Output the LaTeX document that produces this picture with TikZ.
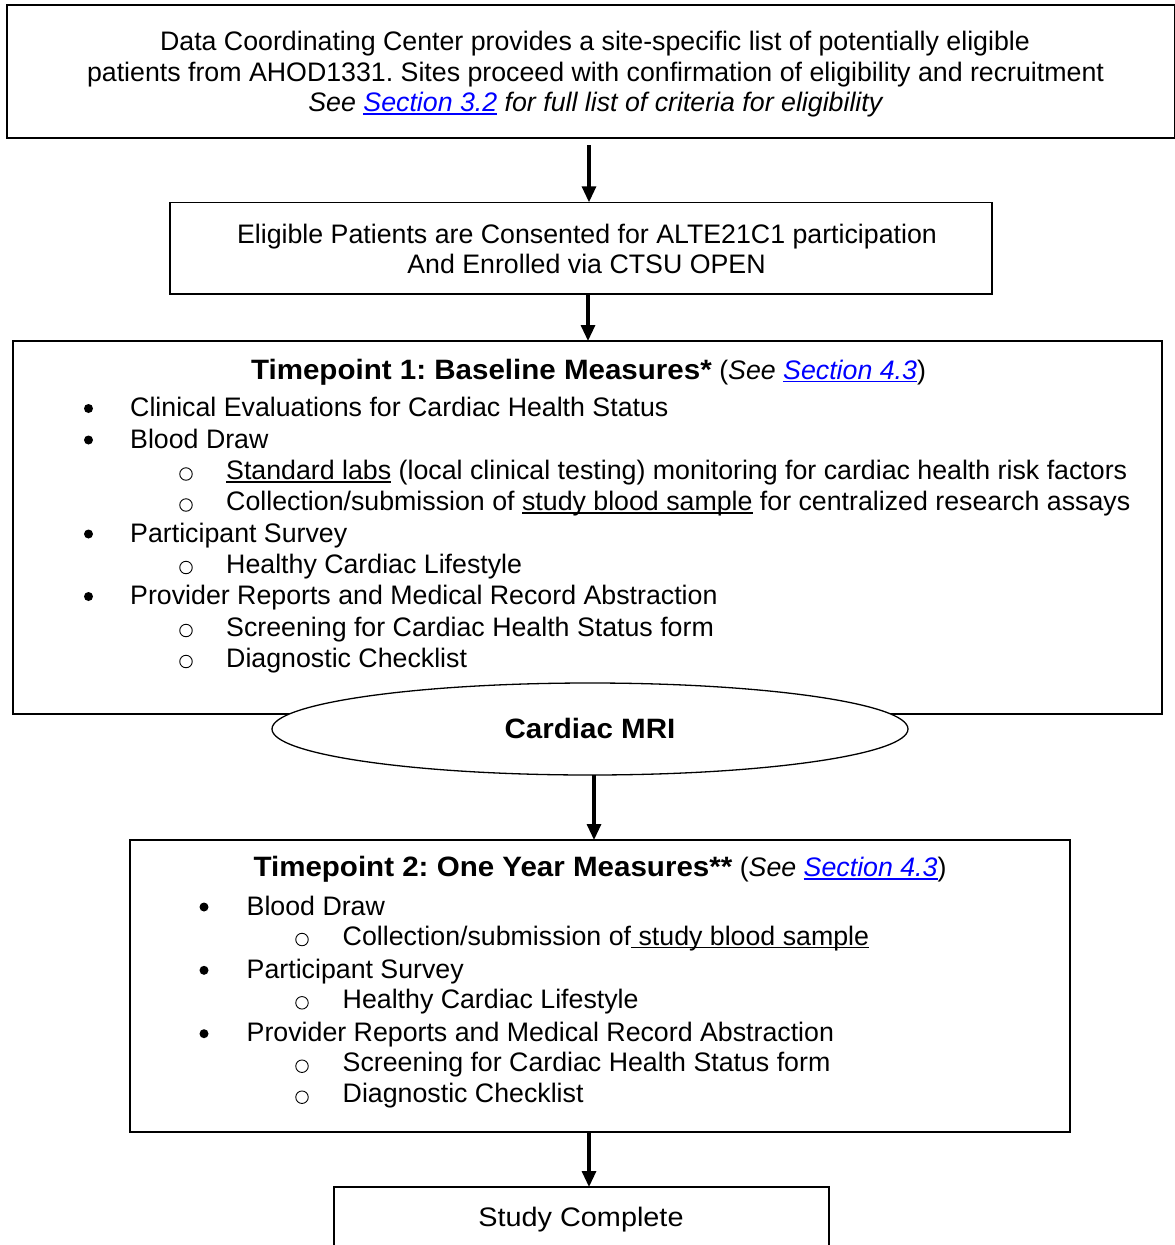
\documentclass[tikz,border=0pt]{standalone}
\usepackage{fontspec}
\setmainfont{Liberation Sans}
\usetikzlibrary{arrows.meta,shapes.geometric}
\definecolor{linkblue}{RGB}{0,0,255}
\frenchspacing
\newsavebox{\myulbox}
\newcommand{\myul}[1]{\sbox{\myulbox}{#1}\rlap{\rule[-3pt]{\wd\myulbox}{1.5pt}}\usebox{\myulbox}}
\newcommand{\lnk}[1]{\textcolor{linkblue}{\myul{\textit{#1}}}}
\newcommand{\bigbold}[1]{\scalebox{1.055}[1]{\fontsize{28}{31}\selectfont\bfseries #1}}
\begin{document}
\begin{tikzpicture}[x=1pt,y=-1pt,
  box/.style={draw=black, line width=1.3pt, rectangle, inner sep=0pt, outer sep=0pt},
  oval/.style={draw=black, line width=1.3pt, ellipse, fill=white, inner sep=0pt, outer sep=0pt},
  txt/.style={font=\fontsize{26.75}{31}\selectfont, inner sep=0pt, anchor=base},
  ltxt/.style={txt, anchor=base west},
  dot/.style={circle, fill=black, inner sep=0pt, minimum size=9pt, yshift=8pt},
  ring/.style={circle, draw=black, line width=0.9pt, inner sep=0pt, minimum size=12.5pt, yshift=5.5pt},
  arr/.style={line width=3.2pt, -{Triangle[width=14pt,length=16pt]}}
]
\useasboundingbox (0,0) rectangle (1175,1245);
\fill[white] (0,0) rectangle (1175,1245);

% boxes
\node[box, minimum width=1167.5pt, minimum height=133pt] (dcc) at (590.75,71.5) {};
\node[box, minimum width=822pt, minimum height=91.7pt] (enr) at (581,248.15) {};
\node[box, minimum width=1149pt, minimum height=373pt] (tp1) at (587.5,527.5) {};
\node[oval, minimum width=636pt, minimum height=92pt] (mri) at (590,729) {};
\node[box, minimum width=940pt, minimum height=292pt] (tp2) at (600,986) {};
\node[box, minimum width=495pt, minimum height=113pt] (done) at (581.5,1243.5) {};

% top box text
\node[txt] (t1a) at (595,50.7) {Data Coordinating Center provides a site-specific list of potentially eligible};
\node[txt] (t1b) at (595.5,81.3) {patients from AHOD1331. Sites proceed with confirmation of eligibility and recruitment};
\node[txt] (t1c) at (596,111.7) {\textit{See \lnk{Section 3.2} for full list of criteria for eligibility}};

% enrolment box text
\node[txt] (e1) at (587,243) {Eligible Patients are Consented for ALTE21C1 participation};
\node[txt] (e2) at (586.5,273.5) {And Enrolled via CTSU OPEN};

% timepoint 1
\node[txt] (h1) at (588.5,379) {\bigbold{Timepoint 1: Baseline Measures*} (\textit{See} \lnk{Section 4.3})};
\node[dot] (p1b1) at (88.5,416.5) {};
\node[ltxt] (p1l1) at (130,416.5) {Clinical Evaluations for Cardiac Health Status};
\node[dot] (p1b2) at (88.5,448) {};
\node[ltxt] (p1l2) at (130,448) {Blood Draw};
\node[ring] (p1c1) at (186,479.5) {};
\node[ltxt] (p1l3) at (226,479.5) {\myul{Standard labs} (local clinical testing) monitoring for cardiac health risk factors};
\node[ring] (p1c2) at (186,510.5) {};
\node[ltxt] (p1l4) at (226,510.5) {Collection/submission of \myul{study blood sample} for centralized research assays};
\node[dot] (p1b3) at (88.5,542) {};
\node[ltxt] (p1l5) at (130,542) {Participant Survey};
\node[ring] (p1c3) at (186,573) {};
\node[ltxt] (p1l6) at (226,573) {Healthy Cardiac Lifestyle};
\node[dot] (p1b4) at (88.5,604.5) {};
\node[ltxt] (p1l7) at (130,604.5) {Provider Reports and Medical Record Abstraction};
\node[ring] (p1c4) at (186,636) {};
\node[ltxt] (p1l8) at (226,636) {Screening for Cardiac Health Status form};
\node[ring] (p1c5) at (186,667) {};
\node[ltxt] (p1l9) at (226,667) {Diagnostic Checklist};

% MRI
\node[txt] (mrit) at (590,738) {\bigbold{Cardiac MRI}};

% timepoint 2
\node[txt] (h2) at (600,876.7) {\bigbold{Timepoint 2: One Year Measures**} (\textit{See} \lnk{Section 4.3})};
\node[dot] (p2b1) at (204,915) {};
\node[ltxt] (p2l1) at (246.5,915) {Blood Draw};
\node[ring] (p2c1) at (302,945) {};
\node[ltxt] (p2l2) at (342.5,945) {Collection/submission of\myul{ study blood sample}};
\node[dot] (p2b2) at (204,978.3) {};
\node[ltxt] (p2l3) at (246.5,978.3) {Participant Survey};
\node[ring] (p2c2) at (302,1008.3) {};
\node[ltxt] (p2l4) at (342.5,1008.3) {Healthy Cardiac Lifestyle};
\node[dot] (p2b3) at (204,1041.7) {};
\node[ltxt] (p2l5) at (246.5,1041.7) {Provider Reports and Medical Record Abstraction};
\node[ring] (p2c3) at (302,1071.7) {};
\node[ltxt] (p2l6) at (342.5,1071.7) {Screening for Cardiac Health Status form};
\node[ring] (p2c4) at (302,1102.7) {};
\node[ltxt] (p2l7) at (342.5,1102.7) {Diagnostic Checklist};

% done
\node[txt] (donet) at (581,1226) {\scalebox{1.078}[1]{Study Complete}};

% connectors
\draw[arr, shorten <=7pt] (dcc.south -| 589,0) -- (enr.north -| 589,0);
\draw[arr] (enr.south -| 588,0) -- (tp1.north -| 588,0);
\draw[arr] (mri.south -| 594,0) -- (tp2.north -| 594,0);
\draw[arr] (tp2.south -| 589,0) -- (done.north -| 589,0);
\end{tikzpicture}
\end{document}
